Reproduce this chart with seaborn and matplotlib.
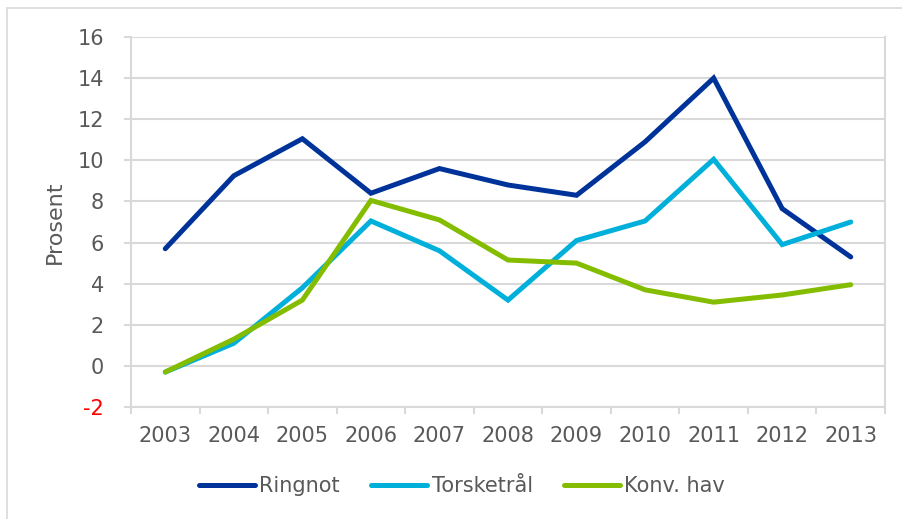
import pandas as pd
import numpy as np
import matplotlib
matplotlib.use('Agg')
import matplotlib.pyplot as plt
import seaborn as sns
from matplotlib.patches import Rectangle
from matplotlib.ticker import FixedLocator

# ── Data ─────────────────────────────────────────────────────
years = ['2003', '2004', '2005', '2006', '2007', '2008',
         '2009', '2010', '2011', '2012', '2013']
ringnot = [5.7, 9.25, 11.05, 8.4, 9.6, 8.8, 8.3, 10.9, 14.0, 7.65, 5.3]
torsketraal = [-0.3, 1.1, 3.8, 7.05, 5.6, 3.2, 6.1, 7.05, 10.05, 5.9, 7.0]
konv_hav = [-0.3, 1.3, 3.2, 8.05, 7.1, 5.15, 5.0, 3.7, 3.1, 3.45, 3.95]

series = ['Ringnot', 'Torsketrål', 'Konv. hav']
colors = ['#003399', '#00B0DA', '#84BD00']

df = pd.DataFrame({
    'År': years * 3,
    'Prosent': ringnot + torsketraal + konv_hav,
    'Serie': np.repeat(series, len(years)),
})

# ── Plot ─────────────────────────────────────────────────────
sns.set_style('white')
plt.rcParams['font.family'] = ['DejaVu Sans']
grey = '#595959'
grid = '#D9D9D9'

fig = plt.figure(figsize=(9.03, 5.19), dpi=100)
ax = fig.add_axes([131 / 903, 1 - 407 / 519, (885 - 131) / 903, (407 - 37) / 519])

sns.lineplot(data=df, x='År', y='Prosent', hue='Serie', hue_order=series,
             palette=colors, linewidth=3.6, sort=False, ax=ax,
             solid_capstyle='round', solid_joinstyle='miter')

ax.set_xlim(-0.5, len(years) - 0.5)
ax.set_ylim(-2, 16)
ax.set_yticks(range(-2, 17, 2))
ax.set_yticklabels([str(v) for v in range(-2, 17, 2)])
ax.yaxis.grid(True, color=grid, linewidth=1.5)
ax.set_axisbelow(True)

# category ticks between years
ax.xaxis.set_minor_locator(FixedLocator(np.arange(-0.5, len(years), 1)))
ax.tick_params(axis='x', which='major', length=0, pad=14, labelsize=15, labelcolor=grey)
ax.tick_params(axis='x', which='minor', length=5, width=1.5, color=grid, direction='out', bottom=True)
ax.tick_params(axis='y', length=5, width=1.5, color=grid, direction='out', left=True,
               labelsize=15, labelcolor=grey, pad=14.5)
for lbl in ax.get_yticklabels():
    if lbl.get_text() == '-2':
        lbl.set_color('red')

for side in ['left', 'bottom', 'right']:
    ax.spines[side].set_color(grid)
    ax.spines[side].set_linewidth(1.5)
    ax.spines[side].set_visible(True)
ax.spines['top'].set_visible(False)

ax.set_xlabel('')
ax.set_ylabel('Prosent', fontsize=16, color=grey, labelpad=9)

ax.legend(loc='center', bbox_to_anchor=(462 / 903, 1 - 486 / 519),
          bbox_transform=fig.transFigure, ncol=3, frameon=False,
          fontsize=15, handlelength=2.7, handletextpad=0.2, columnspacing=1.5,
          labelcolor=grey)

# outer chart frame
fig.add_artist(Rectangle((7 / 903, -0.05), 1.2, 1 - 8 / 519 + 0.05,
                         transform=fig.transFigure, fill=False,
                         edgecolor=grid, linewidth=1.2))

plt.savefig('out.png', dpi=100)
plt.close()
